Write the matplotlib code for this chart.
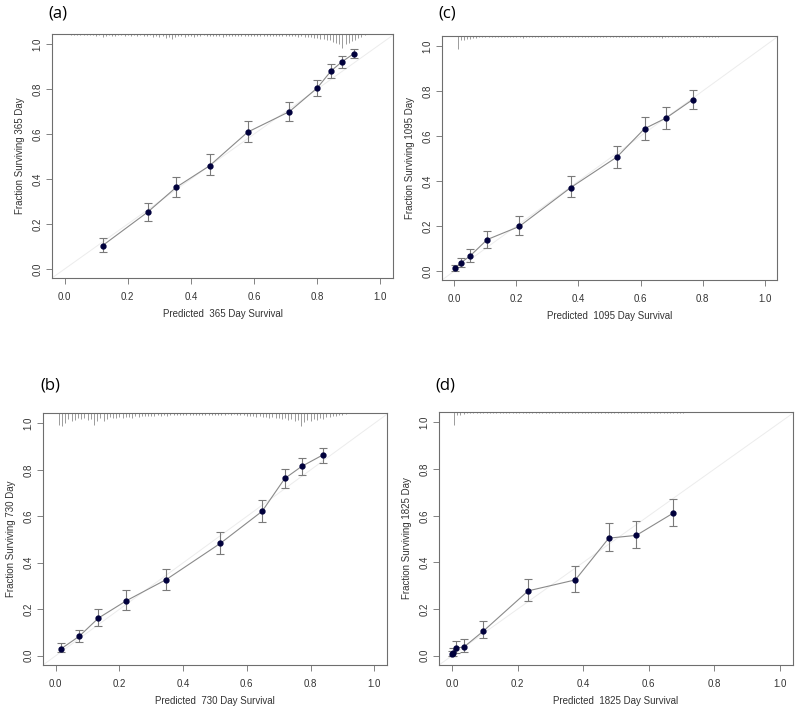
import numpy as np
import matplotlib
matplotlib.use('Agg')
import matplotlib.pyplot as plt

plt.rcParams['font.family'] = ['Liberation Sans', 'DejaVu Sans']

# calibration points: predicted, observed, lower, upper
pred_365 = [0.120, 0.263, 0.353, 0.459, 0.580, 0.712, 0.800, 0.844, 0.877, 0.916]
obs_365 = [0.104, 0.253, 0.363, 0.459, 0.609, 0.700, 0.805, 0.881, 0.920, 0.958]
lo_365 = [0.077, 0.212, 0.321, 0.416, 0.566, 0.658, 0.771, 0.850, 0.896, 0.939]
hi_365 = [0.137, 0.294, 0.410, 0.510, 0.658, 0.744, 0.842, 0.911, 0.945, 0.978]

pred_730 = [0.017, 0.074, 0.134, 0.222, 0.347, 0.517, 0.648, 0.719, 0.772, 0.838]
obs_730 = [0.030, 0.084, 0.162, 0.237, 0.328, 0.484, 0.622, 0.763, 0.815, 0.864]
lo_730 = [0.016, 0.060, 0.129, 0.197, 0.284, 0.436, 0.577, 0.722, 0.778, 0.830]
hi_730 = [0.053, 0.112, 0.200, 0.281, 0.375, 0.533, 0.669, 0.803, 0.852, 0.893]

pred_1095 = [0.002, 0.020, 0.049, 0.106, 0.209, 0.375, 0.524, 0.613, 0.682, 0.768]
obs_1095 = [0.012, 0.036, 0.065, 0.140, 0.198, 0.371, 0.507, 0.633, 0.680, 0.762]
lo_1095 = [0.000, 0.018, 0.041, 0.104, 0.160, 0.328, 0.457, 0.584, 0.633, 0.722]
hi_1095 = [0.028, 0.058, 0.096, 0.180, 0.244, 0.423, 0.555, 0.683, 0.729, 0.805]

pred_1825 = [0.000, 0.004, 0.011, 0.035, 0.095, 0.232, 0.376, 0.478, 0.562, 0.674]
obs_1825 = [0.006, 0.013, 0.034, 0.036, 0.105, 0.278, 0.325, 0.504, 0.516, 0.611]
lo_1825 = [0.000, 0.000, 0.013, 0.014, 0.074, 0.234, 0.274, 0.447, 0.460, 0.557]
hi_1825 = [0.020, 0.031, 0.063, 0.070, 0.149, 0.330, 0.386, 0.568, 0.577, 0.670]

# rug (distribution of predictions), spike heights per 0.01 bin
rug_365 = [1, 1, 1, 1, 1, 1, 1, 1,
           2, 1, 3, 2, 1, 2, 2, 1, 1, 2,
           1, 2, 1, 2, 1, 2, 2, 1, 3, 2,
           3, 2, 4, 3, 5, 3, 2, 2, 3, 2,
           2, 3, 2, 2, 1, 2, 2, 2, 2, 2,
           3, 2, 2, 2, 2, 2, 2, 2, 2, 2,
           2, 2, 2, 2, 2, 2, 2, 2, 2, 2,
           2, 2, 2, 2, 3, 2, 3, 3, 3, 4,
           4, 5, 5, 6, 6, 8, 9, 10, 14, 10,
           9, 7, 6, 4, 3, 1]
rug_365_start = 0.02

rug_730 = [12, 13, 10, 6, 8, 7, 5, 6, 5,
           7, 6, 12, 8, 5, 8, 6, 4, 5, 5,
           4, 5, 4, 4, 5, 3, 4, 3, 3, 3,
           3, 3, 2, 3, 2, 3, 2, 2, 2, 2,
           2, 2, 2, 2, 2, 2, 2, 2, 2, 2,
           2, 2, 2, 2, 1, 2, 1, 2, 2, 2,
           3, 3, 3, 4, 3, 4, 4, 5, 4, 5,
           5, 6, 5, 7, 6, 8, 7, 13, 9, 7,
           8, 6, 7, 5, 6, 4, 4, 3, 3, 2,
           2, 1]
rug_730_start = 0.01

rug_1095 = [13, 4, 4, 3, 3, 2, 2, 1, 1,
            1, 1, 1, 1, 1, 1, 1, 1, 1, 1,
            1, 1, 2, 1, 1, 1, 1, 1, 1, 1,
            1, 1, 1, 1, 1, 1, 1, 1, 1, 1,
            1, 1, 1, 1, 1, 1, 1, 1, 1, 1,
            1, 1, 1, 1, 1, 1, 1, 1, 1, 1,
            1, 1, 1, 1, 1, 1, 1, 2, 1, 1,
            1, 1, 1, 1, 1, 1, 1, 1, 1, 1,
            1, 1, 1, 1, 1, 1]
rug_1095_start = 0.01

rug_1825 = [13, 3, 3, 2, 1, 1, 1, 1, 1,
            1, 1, 1, 1, 1, 1, 1, 1, 1, 1,
            1, 1, 1, 1, 1, 1, 1, 1, 1, 1,
            1, 1, 1, 1, 1, 1, 1, 1, 1, 1,
            1, 1, 1, 1, 1, 1, 1, 1, 1, 1,
            1, 1, 1, 1, 1, 1, 1, 1, 1, 1,
            1, 1, 1, 1, 1, 1, 1, 1, 1, 1,
            1, 1]
rug_1825_start = 0.005

days = ['365', '730', '1095', '1825']
letters = ['(a)', '(b)', '(c)', '(d)']

fig = plt.figure(figsize=(8, 7.21), dpi=100)

# axes boxes in pixels: left, top, right, bottom
boxes = [(52, 34, 393, 278), (43, 413, 387, 665),
         (442, 36, 777, 280), (439, 412, 793, 665)]
letter_pos = [(58, 14), (50, 386), (447, 14), (445, 386)]

panels = [
    (pred_365, obs_365, lo_365, hi_365, rug_365, rug_365_start),
    (pred_730, obs_730, lo_730, hi_730, rug_730, rug_730_start),
    (pred_1095, obs_1095, lo_1095, hi_1095, rug_1095, rug_1095_start),
    (pred_1825, obs_1825, lo_1825, hi_1825, rug_1825, rug_1825_start),
]

W, H = 800, 721
grey = '#6e6e6e'

for i, (px, py, lo, hi, rug, rstart) in enumerate(panels):
    l, t, r, b = boxes[i]
    ax = fig.add_axes([l / W, (H - b) / H, (r - l) / W, (b - t) / H])
    ax.set_xlim(-0.04, 1.04)
    ax.set_ylim(-0.04, 1.045)

    # ideal line
    ax.plot([-0.05, 1.1], [-0.05, 1.1], color='#ececec', lw=0.7, zorder=1)

    px = np.array(px); py = np.array(py)
    ax.plot(px, py, color='#8a8a8a', lw=0.8, zorder=2)
    ax.errorbar(px, py, yerr=[py - np.array(lo), np.array(hi) - py],
                fmt='none', ecolor='#7a7a7a', elinewidth=0.8,
                capsize=3, capthick=0.8, zorder=3)
    ax.plot(px, py, 'o', color='#00003c', ms=3.5, zorder=4)

    # rug spikes hanging from top of box
    rx = rstart + 0.01 * np.arange(len(rug))
    rh = np.array(rug) / (b - t)
    ax.vlines(rx, 1 - rh, 1, transform=ax.get_xaxis_transform(),
              color='#8c8c8c', lw=0.6, zorder=2)

    ticks = [0.0, 0.2, 0.4, 0.6, 0.8, 1.0]
    ax.set_xticks(ticks)
    ax.set_yticks(ticks)
    ax.set_xticklabels([f'{v:.1f}' for v in ticks])
    ax.set_yticklabels([f'{v:.1f}' for v in ticks], rotation=90, va='center')
    ax.tick_params(labelsize=7, length=4, width=0.6, color=grey,
                   labelcolor='#333333')
    ax.tick_params(axis='x', pad=6)
    ax.tick_params(axis='y', pad=3)
    for s in ax.spines.values():
        s.set_color(grey)
        s.set_linewidth(0.8)

    ax.set_xlabel(f'Predicted  {days[i]} Day Survival', fontsize=7,
                  color='#333333', labelpad=5)
    ax.set_ylabel(f'Fraction Surviving {days[i]} Day', fontsize=7,
                  color='#333333', labelpad=5)

    lx, ly = letter_pos[i]
    fig.text(lx / W, 1 - ly / H, letters[i], fontsize=12,
             ha='center', va='center', family=['Open Sans', 'DejaVu Sans'])

fig.savefig('out.png', dpi=100)
